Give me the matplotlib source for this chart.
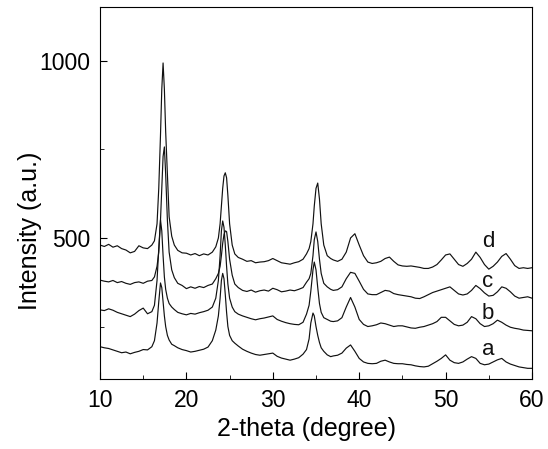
import matplotlib
matplotlib.use('Agg')
import matplotlib.pyplot as plt
from matplotlib.ticker import FixedLocator

plt.rcParams['font.family'] = ['Liberation Sans', 'DejaVu Sans']

# 2-theta sampling (denser around the main reflections)
theta = [10.0, 10.5, 11.0, 11.5, 12.0, 12.5, 13.0, 13.5, 14.0, 14.5, 15.0, 15.5, 16.0,
         16.3, 16.6, 16.8, 17.0, 17.15, 17.3, 17.45, 17.6, 17.8, 18.0, 18.3, 18.6,
         19.0, 19.5, 20.0, 20.5, 21.0, 21.5, 22.0, 22.5, 23.0,
         23.4, 23.7, 23.9, 24.05, 24.2, 24.35, 24.5, 24.65, 24.8, 25.0, 25.3, 25.6,
         26.0, 26.5, 27.0, 27.5, 28.0, 28.5, 29.0, 29.5, 30.0, 30.5, 31.0, 31.5, 32.0, 32.5, 33.0, 33.5,
         33.9, 34.2, 34.4, 34.65, 34.8, 35.0, 35.2, 35.4, 35.6, 35.9, 36.3, 36.7,
         37.0, 37.5, 38.0, 38.5, 39.0, 39.5, 40.0, 40.5, 41.0, 41.5,
         42.0, 42.5, 43.0, 43.5, 44.0, 44.5, 45.0, 45.5, 46.0, 46.5,
         47.0, 47.5, 48.0, 48.5, 49.0, 49.5, 50.0, 50.5, 51.0, 51.5,
         52.0, 52.5, 53.0, 53.5, 54.0, 54.5, 55.0, 55.5, 56.0, 56.5,
         57.0, 57.5, 58.0, 58.5, 59.0, 59.5, 60.0]

int_d = [480, 476, 482, 474, 478, 470, 466, 458, 462, 478, 472, 470, 480,
         492, 540, 640, 790, 920, 994, 920, 800, 680, 560, 505, 480,
         465, 458, 457, 452, 456, 450, 455, 452, 460,
         475, 500, 540, 590, 640, 675, 684, 670, 620, 540, 480, 455,
         445, 440, 434, 436, 430, 432, 433, 436, 442, 436, 430, 428, 426, 430, 433, 440,
         455, 470, 490, 540, 590, 640, 655, 610, 540, 480, 450, 442,
         438, 434, 440, 460, 500, 512, 480, 450, 432, 428,
         430, 434, 442, 446, 434, 424, 421, 420, 421, 419,
         417, 414, 414, 418, 425, 438, 452, 455, 440, 425,
         420, 428, 440, 460, 445, 425, 412, 420, 432, 448,
         456, 440, 422, 414, 416, 414, 416]

int_c = [381, 378, 376, 380, 374, 377, 372, 369, 374, 376, 372, 378, 380,
         390, 420, 460, 550, 640, 730, 757, 680, 550, 460, 410, 388,
         372, 366, 357, 362, 358, 363, 360, 366, 370,
         385, 400, 420, 450, 485, 510, 520, 518, 490, 440, 395, 370,
         360, 352, 349, 353, 347, 351, 353, 350, 358, 354, 348, 350, 353, 351, 355, 360,
         375, 385, 400, 450, 495, 517, 490, 440, 400, 372, 362, 355,
         352, 354, 362, 385, 403, 400, 378, 355, 342, 340,
         340, 346, 352, 350, 343, 340, 338, 336, 334, 330,
         329, 334, 340, 346, 350, 354, 358, 362, 352, 342,
         339, 342, 352, 366, 357, 345, 336, 338, 348, 362,
         358, 348, 336, 330, 332, 334, 330]

int_b = [297, 295, 300, 296, 290, 286, 282, 278, 285, 295, 302, 286, 292,
         310, 380, 470, 551, 520, 450, 390, 355, 330, 315, 305, 298,
         290, 286, 283, 287, 285, 289, 292, 296, 305,
         330, 380, 450, 520, 548, 530, 480, 420, 370, 330, 305, 292,
         285, 280, 276, 272, 269, 272, 274, 277, 280, 270, 265, 261, 258, 256, 255, 262,
         285, 310, 350, 410, 432, 410, 360, 315, 290, 275, 270, 265,
         264, 266, 275, 305, 332, 305, 270, 256, 250, 252,
         255, 260, 258, 254, 250, 252, 252, 249, 246, 245,
         248, 250, 254, 258, 264, 276, 276, 266, 256, 252,
         254, 262, 278, 272, 258, 250, 252, 258, 268, 262,
         254, 248, 245, 243, 240, 239, 238]

int_a = [193, 190, 188, 184, 180, 176, 178, 173, 177, 180, 185, 184, 193,
         210, 260, 320, 373, 360, 320, 280, 250, 225, 212, 200, 196,
         190, 185, 182, 178, 180, 183, 186, 192, 210,
         240, 280, 330, 380, 400, 385, 340, 290, 250, 225, 210, 203,
         195, 186, 180, 175, 171, 169, 171, 173, 175, 166, 161, 158, 155, 158, 162, 172,
         185, 215, 260, 288, 280, 250, 225, 205, 190, 180, 170, 165,
         167, 169, 175, 189, 198, 180, 160, 150, 146, 145,
         146, 152, 155, 150, 146, 145, 145, 143, 142, 139,
         137, 136, 138, 145, 152, 160, 170, 155, 148, 146,
         150, 158, 165, 160, 146, 142, 144, 150, 156, 160,
         150, 144, 140, 136, 134, 132, 132]

labels = ['a', 'b', 'c', 'd']
label_y = [184, 288, 376, 491]
label_x = 54.9

fig = plt.figure(figsize=(5.48, 4.49), dpi=100)
ax = fig.add_axes([0.1825, 0.156, 0.7883, 0.8284])

for y in [int_a, int_b, int_c, int_d]:
    ax.plot(theta, y, color='#111111', lw=0.85)

for lab, ly in zip(labels, label_y):
    ax.text(label_x, ly, lab, fontsize=16, ha='center', va='center', color='#111111')

ax.set_xlim(10, 60)
ax.set_ylim(102, 1152)
ax.set_xticks([10, 20, 30, 40, 50, 60])
ax.xaxis.set_minor_locator(FixedLocator([15, 25, 35, 45, 55]))
ax.set_yticks([500, 1000])
ax.yaxis.set_minor_locator(FixedLocator([250, 750]))
ax.tick_params(which='both', direction='in', top=False, right=False, labelsize=16.5, pad=7)
ax.tick_params(which='major', length=5)
ax.tick_params(which='minor', length=3)

ax.set_xlabel('2-theta (degree)', fontsize=18)
ax.set_ylabel('Intensity (a.u.)', fontsize=18)
ax.xaxis.set_label_coords(0.479, -0.102)
ax.yaxis.set_label_coords(-0.134, 0.398)

fig.savefig('out.png', dpi=100)
